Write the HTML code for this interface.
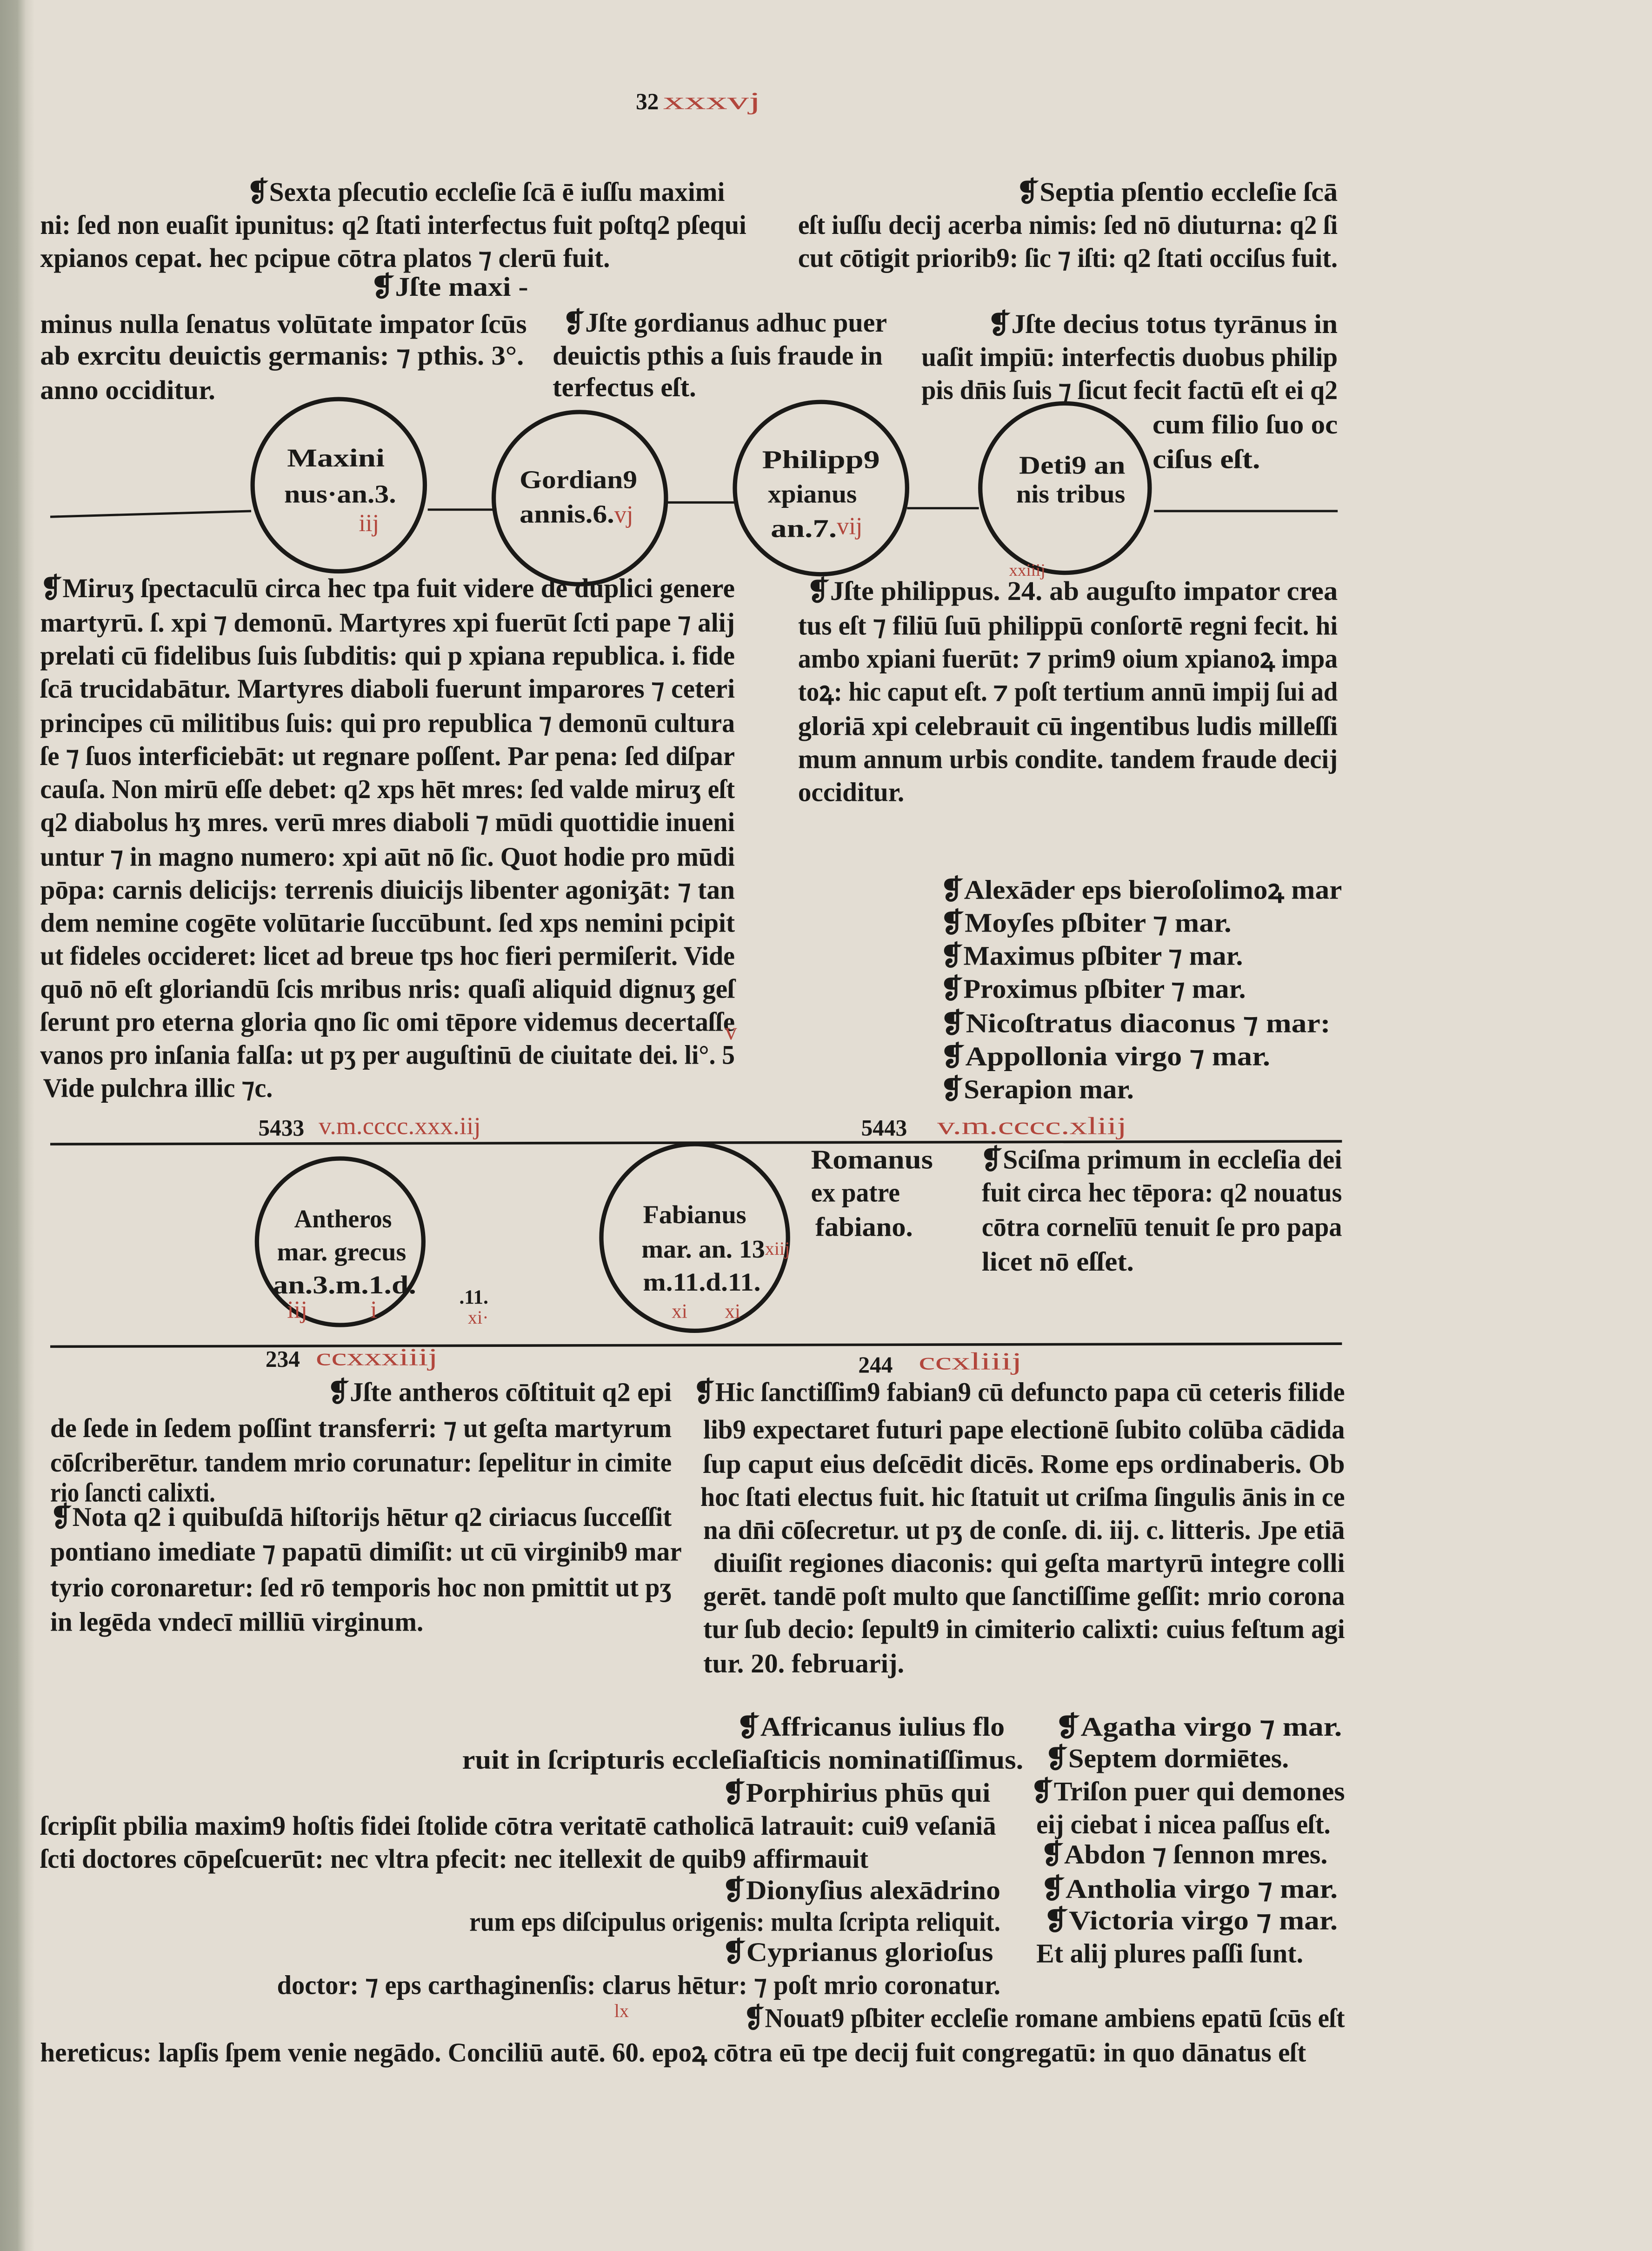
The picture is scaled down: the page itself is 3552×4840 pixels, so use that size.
<!DOCTYPE html>
<html><head><meta charset="utf-8">
<style>
html,body{margin:0;padding:0;background:#e3ddd3;}
svg{display:block}
text{font-family:"Liberation Serif","DejaVu Serif",serif;font-weight:bold;font-size:19px;fill:#1a1917}
.r{fill:#b2463c;font-weight:normal;font-size:17px}
.c{font-size:18px}
</style></head>
<body>
<svg width="3552" height="4840" viewBox="0 0 1151 1568" preserveAspectRatio="none" xmlns="http://www.w3.org/2000/svg">
<defs>
<linearGradient id="lg" x1="0" x2="1" y1="0" y2="0">
<stop offset="0" stop-color="#9c9e8f"/>
<stop offset="0.5" stop-color="#aaab9c"/>
<stop offset="0.75" stop-color="#d3cfc3"/>
<stop offset="1" stop-color="#e3ddd3"/>
</linearGradient>
</defs>
<rect x="0" y="0" width="1151" height="1568" fill="#e3ddd3"/>
<rect x="0" y="0" width="24" height="1568" fill="url(#lg)"/>

<text x="443" y="76" style="font-size:16px">32</text>
<text class="r" x="462" y="76" textLength="68" lengthAdjust="spacingAndGlyphs">xxxvj</text>

<text x="172" y="140" textLength="333" lengthAdjust="spacingAndGlyphs">❡Sexta pſecutio eccleſie ſcā ē iuſſu maximi</text>
<text x="28" y="163" textLength="492" lengthAdjust="spacingAndGlyphs">ni: ſed non euaſit ipunitus: q2 ſtati interfectus fuit poſtq2 pſequi</text>
<text x="28" y="186" textLength="397" lengthAdjust="spacingAndGlyphs">xpianos cepat. hec pcipue cōtra platos ⁊ clerū fuit.</text>
<text x="258" y="206" textLength="110" lengthAdjust="spacingAndGlyphs">❡Jſte maxi -</text>
<text x="28" y="232" textLength="339" lengthAdjust="spacingAndGlyphs">minus nulla ſenatus volūtate impator ſcūs</text>
<text x="28" y="254" textLength="337" lengthAdjust="spacingAndGlyphs">ab exrcitu deuictis germanis: ⁊ pthis. 3°.</text>
<text x="28" y="278" textLength="122" lengthAdjust="spacingAndGlyphs">anno occiditur.</text>
<text x="392" y="231" textLength="226" lengthAdjust="spacingAndGlyphs">❡Jſte gordianus adhuc puer</text>
<text x="385" y="254" textLength="230" lengthAdjust="spacingAndGlyphs">deuictis pthis a ſuis fraude in</text>
<text x="385" y="276" textLength="100" lengthAdjust="spacingAndGlyphs">terfectus eſt.</text>
<text x="708" y="140" textLength="224" lengthAdjust="spacingAndGlyphs">❡Septia pſentio eccleſie ſcā</text>
<text x="556" y="163" textLength="376" lengthAdjust="spacingAndGlyphs">eſt iuſſu decij acerba nimis: ſed nō diuturna: q2 ſi</text>
<text x="556" y="186" textLength="376" lengthAdjust="spacingAndGlyphs">cut cōtigit priorib9: ſic ⁊ iſti: q2 ſtati occiſus fuit.</text>
<text x="688" y="232" textLength="244" lengthAdjust="spacingAndGlyphs">❡Jſte decius totus tyrānus in</text>
<text x="642" y="255" textLength="290" lengthAdjust="spacingAndGlyphs">uaſit impiū: interfectis duobus philip</text>
<text x="642" y="278" textLength="290" lengthAdjust="spacingAndGlyphs">pis dn̄is ſuis ⁊ ſicut fecit factū eſt ei q2</text>
<text x="803" y="302" textLength="129" lengthAdjust="spacingAndGlyphs">cum filio ſuo oc</text>
<text x="803" y="326" textLength="75" lengthAdjust="spacingAndGlyphs">ciſus eſt.</text>

<g stroke="#1a1917" fill="none">
<line x1="35" y1="360" x2="175" y2="356" stroke-width="1.6"/>
<line x1="298" y1="355" x2="346" y2="355" stroke-width="1.6"/>
<line x1="464" y1="350" x2="512" y2="350" stroke-width="1.6"/>
<line x1="632" y1="354" x2="682" y2="354" stroke-width="1.6"/>
<line x1="804" y1="356" x2="932" y2="356" stroke-width="1.6"/>
<circle cx="236" cy="338" r="60" stroke-width="3"/>
<circle cx="404" cy="347" r="60" stroke-width="3"/>
<circle cx="572" cy="340" r="60" stroke-width="3"/>
<circle cx="742" cy="340" r="59" stroke-width="3"/>
</g>
<text class="c" x="200" y="325" textLength="68" lengthAdjust="spacingAndGlyphs">Maxini</text>
<text class="c" x="198" y="350" textLength="78" lengthAdjust="spacingAndGlyphs">nus·an.3.</text>
<text class="r" x="250" y="370">iij</text>
<text class="c" x="362" y="340" textLength="82" lengthAdjust="spacingAndGlyphs">Gordian9</text>
<text class="c" x="362" y="364" textLength="66" lengthAdjust="spacingAndGlyphs">annis.6.</text>
<text class="r" x="428" y="364">vj</text>
<text class="c" x="531" y="326" textLength="82" lengthAdjust="spacingAndGlyphs">Philipp9</text>
<text class="c" x="535" y="350" textLength="62" lengthAdjust="spacingAndGlyphs">xpianus</text>
<text class="c" x="537" y="374" textLength="46" lengthAdjust="spacingAndGlyphs">an.7.</text>
<text class="r" x="583" y="372">vij</text>
<text class="c" x="710" y="330" textLength="74" lengthAdjust="spacingAndGlyphs">Deti9 an</text>
<text class="c" x="708" y="350" textLength="76" lengthAdjust="spacingAndGlyphs">nis tribus</text>

<text x="28" y="416" textLength="484" lengthAdjust="spacingAndGlyphs">❡Miruʒ ſpectaculū circa hec tpa fuit videre de duplici genere</text>
<text x="28" y="440" textLength="484" lengthAdjust="spacingAndGlyphs">martyrū. ſ. xpi ⁊ demonū. Martyres xpi fuerūt ſcti pape ⁊ alij</text>
<text x="28" y="463" textLength="484" lengthAdjust="spacingAndGlyphs">prelati cū fidelibus ſuis ſubditis: qui p xpiana republica. i. fide</text>
<text x="28" y="486" textLength="484" lengthAdjust="spacingAndGlyphs">ſcā trucidabātur. Martyres diaboli fuerunt imparores ⁊ ceteri</text>
<text x="28" y="510" textLength="484" lengthAdjust="spacingAndGlyphs">principes cū militibus ſuis: qui pro republica ⁊ demonū cultura</text>
<text x="28" y="533" textLength="484" lengthAdjust="spacingAndGlyphs">ſe ⁊ ſuos interficiebāt: ut regnare poſſent. Par pena: ſed diſpar</text>
<text x="28" y="556" textLength="484" lengthAdjust="spacingAndGlyphs">cauſa. Non mirū eſſe debet: q2 xps hēt mres: ſed valde miruʒ eſt</text>
<text x="28" y="579" textLength="484" lengthAdjust="spacingAndGlyphs">q2 diabolus hʒ mres. verū mres diaboli ⁊ mūdi quottidie inueni</text>
<text x="28" y="603" textLength="484" lengthAdjust="spacingAndGlyphs">untur ⁊ in magno numero: xpi aūt nō ſic. Quot hodie pro mūdi</text>
<text x="28" y="626" textLength="484" lengthAdjust="spacingAndGlyphs">pōpa: carnis delicijs: terrenis diuicijs libenter agoniʒāt: ⁊ tan</text>
<text x="28" y="649" textLength="484" lengthAdjust="spacingAndGlyphs">dem nemine cogēte volūtarie ſuccūbunt. ſed xps nemini pcipit</text>
<text x="28" y="672" textLength="484" lengthAdjust="spacingAndGlyphs">ut fideles occideret: licet ad breue tps hoc fieri permiſerit. Vide</text>
<text x="28" y="695" textLength="484" lengthAdjust="spacingAndGlyphs">quō nō eſt gloriandū ſcis mribus nris: quaſi aliquid dignuʒ geſ</text>
<text x="28" y="718" textLength="484" lengthAdjust="spacingAndGlyphs">ſerunt pro eterna gloria qno ſic omi tēpore videmus decertaſſe</text>
<text x="28" y="741" textLength="484" lengthAdjust="spacingAndGlyphs">vanos pro inſania falſa: ut pʒ per auguſtinū de ciuitate dei. li°. 5</text>
<text class="r" x="505" y="724">v</text>
<text x="30" y="764" textLength="160" lengthAdjust="spacingAndGlyphs">Vide pulchra illic ⁊c.</text>

<text class="r" x="703" y="401" style="font-size:12px">xxiiij</text>
<text x="562" y="418" textLength="370" lengthAdjust="spacingAndGlyphs">❡Jſte philippus. 24. ab auguſto impator crea</text>
<text x="556" y="442" textLength="376" lengthAdjust="spacingAndGlyphs">tus eſt ⁊ filiū ſuū philippū conſortē regni fecit. hi</text>
<text x="556" y="465" textLength="376" lengthAdjust="spacingAndGlyphs">ambo xpiani fuerūt: ⁊ prim9 oium xpianoꝝ impa</text>
<text x="556" y="488" textLength="376" lengthAdjust="spacingAndGlyphs">toꝝ: hic caput eſt. ⁊ poſt tertium annū impij ſui ad</text>
<text x="556" y="512" textLength="376" lengthAdjust="spacingAndGlyphs">gloriā xpi celebrauit cū ingentibus ludis milleſſi</text>
<text x="556" y="535" textLength="376" lengthAdjust="spacingAndGlyphs">mum annum urbis condite. tandem fraude decij</text>
<text x="556" y="558" textLength="74" lengthAdjust="spacingAndGlyphs">occiditur.</text>

<text x="655" y="626" textLength="280" lengthAdjust="spacingAndGlyphs">❡Alexāder eps bieroſolimoꝝ mar</text>
<text x="655" y="649" textLength="203" lengthAdjust="spacingAndGlyphs">❡Moyſes pſbiter ⁊ mar.</text>
<text x="655" y="672" textLength="211" lengthAdjust="spacingAndGlyphs">❡Maximus pſbiter ⁊ mar.</text>
<text x="655" y="695" textLength="213" lengthAdjust="spacingAndGlyphs">❡Proximus pſbiter ⁊ mar.</text>
<text x="655" y="719" textLength="272" lengthAdjust="spacingAndGlyphs">❡Nicoſtratus diaconus ⁊ mar:</text>
<text x="655" y="742" textLength="230" lengthAdjust="spacingAndGlyphs">❡Appollonia virgo ⁊ mar.</text>
<text x="655" y="765" textLength="135" lengthAdjust="spacingAndGlyphs">❡Serapion mar.</text>

<text x="180" y="791" style="font-size:16px">5433</text>
<text class="r" x="222" y="790" textLength="113" lengthAdjust="spacingAndGlyphs">v.m.cccc.xxx.iij</text>
<text x="600" y="791" style="font-size:16px">5443</text>
<text class="r" x="653" y="790" textLength="132" lengthAdjust="spacingAndGlyphs">v.m.cccc.xliij</text>
<line x1="35" y1="797" x2="935" y2="795" stroke="#1a1917" stroke-width="1.8"/>

<g stroke="#1a1917" fill="none">
<circle cx="237" cy="865" r="58" stroke-width="3"/>
<circle cx="484" cy="862" r="65" stroke-width="3"/>
</g>
<text class="c" x="205" y="855" textLength="68" lengthAdjust="spacingAndGlyphs">Antheros</text>
<text class="c" x="193" y="878" textLength="90" lengthAdjust="spacingAndGlyphs">mar. grecus</text>
<text class="c" x="190" y="901" textLength="100" lengthAdjust="spacingAndGlyphs">an.3.m.1.d.</text>
<text class="r" x="200" y="918">iij</text>
<text class="r" x="258" y="918">i</text>
<text class="c" x="320" y="908" style="font-size:14px">.11.</text>
<text class="r" x="326" y="922" style="font-size:13px">xi·</text>
<text class="c" x="448" y="852" textLength="72" lengthAdjust="spacingAndGlyphs">Fabianus</text>
<text class="c" x="447" y="876" textLength="86" lengthAdjust="spacingAndGlyphs">mar. an. 13</text>
<text class="r" x="533" y="874" style="font-size:13px">xiij</text>
<text class="c" x="448" y="899" textLength="82" lengthAdjust="spacingAndGlyphs">m.11.d.11.</text>
<text class="r" x="468" y="918" style="font-size:14px">xi</text>
<text class="r" x="505" y="918" style="font-size:14px">xi</text>

<text x="565" y="814" textLength="85" lengthAdjust="spacingAndGlyphs">Romanus</text>
<text x="565" y="837" textLength="62" lengthAdjust="spacingAndGlyphs">ex patre</text>
<text x="568" y="861" textLength="68" lengthAdjust="spacingAndGlyphs">fabiano.</text>
<text x="683" y="814" textLength="252" lengthAdjust="spacingAndGlyphs">❡Sciſma primum in eccleſia dei</text>
<text x="684" y="837" textLength="251" lengthAdjust="spacingAndGlyphs">fuit circa hec tēpora: q2 nouatus</text>
<text x="684" y="861" textLength="251" lengthAdjust="spacingAndGlyphs">cōtra cornelīū tenuit ſe pro papa</text>
<text x="684" y="885" textLength="106" lengthAdjust="spacingAndGlyphs">licet nō eſſet.</text>

<line x1="35" y1="938" x2="935" y2="936" stroke="#1a1917" stroke-width="1.8"/>
<text x="185" y="952" style="font-size:16px">234</text>
<text class="r" x="220" y="951" textLength="85" lengthAdjust="spacingAndGlyphs">ccxxxiiij</text>
<text x="598" y="956" style="font-size:16px">244</text>
<text class="r" x="640" y="954" textLength="72" lengthAdjust="spacingAndGlyphs">ccxliiij</text>

<text x="228" y="976" textLength="240" lengthAdjust="spacingAndGlyphs">❡Jſte antheros cōſtituit q2 epi</text>
<text x="35" y="1001" textLength="433" lengthAdjust="spacingAndGlyphs">de ſede in ſedem poſſint transferri: ⁊ ut geſta martyrum</text>
<text x="35" y="1025" textLength="433" lengthAdjust="spacingAndGlyphs">cōſcriberētur. tandem mrio corunatur: ſepelitur in cimite</text>
<text x="35" y="1046" textLength="115" lengthAdjust="spacingAndGlyphs">rio ſancti calixti.</text>
<text x="35" y="1063" textLength="433" lengthAdjust="spacingAndGlyphs">❡Nota q2 i quibuſdā hiſtorijs hētur q2 ciriacus ſucceſſit</text>
<text x="35" y="1087" textLength="440" lengthAdjust="spacingAndGlyphs">pontiano imediate ⁊ papatū dimiſit: ut cū virginib9 mar</text>
<text x="35" y="1112" textLength="433" lengthAdjust="spacingAndGlyphs">tyrio coronaretur: ſed rō temporis hoc non pmittit ut pʒ</text>
<text x="35" y="1136" textLength="260" lengthAdjust="spacingAndGlyphs">in legēda vndecī milliū virginum.</text>

<text x="483" y="976" textLength="454" lengthAdjust="spacingAndGlyphs">❡Hic ſanctiſſim9 fabian9 cū defuncto papa cū ceteris filide</text>
<text x="490" y="1002" textLength="447" lengthAdjust="spacingAndGlyphs">lib9 expectaret futuri pape electionē ſubito colūba cādida</text>
<text x="490" y="1026" textLength="447" lengthAdjust="spacingAndGlyphs">ſup caput eius deſcēdit dicēs. Rome eps ordinaberis. Ob</text>
<text x="488" y="1049" textLength="449" lengthAdjust="spacingAndGlyphs">hoc ſtati electus fuit. hic ſtatuit ut criſma ſingulis ānis in ce</text>
<text x="490" y="1072" textLength="447" lengthAdjust="spacingAndGlyphs">na dn̄i cōſecretur. ut pʒ de conſe. di. iij. c. litteris. Jpe etiā</text>
<text x="497" y="1095" textLength="440" lengthAdjust="spacingAndGlyphs">diuiſit regiones diaconis: qui geſta martyrū integre colli</text>
<text x="490" y="1118" textLength="447" lengthAdjust="spacingAndGlyphs">gerēt. tandē poſt multo que ſanctiſſime geſſit: mrio corona</text>
<text x="490" y="1141" textLength="447" lengthAdjust="spacingAndGlyphs">tur ſub decio: ſepult9 in cimiterio calixti: cuius feſtum agi</text>
<text x="490" y="1165" textLength="140" lengthAdjust="spacingAndGlyphs">tur. 20. februarij.</text>

<text x="513" y="1209" textLength="187" lengthAdjust="spacingAndGlyphs">❡Affricanus iulius flo</text>
<text x="322" y="1232" textLength="391" lengthAdjust="spacingAndGlyphs">ruit in ſcripturis eccleſiaſticis nominatiſſimus.</text>
<text x="503" y="1255" textLength="187" lengthAdjust="spacingAndGlyphs">❡Porphirius phūs qui</text>
<text x="28" y="1278" textLength="666" lengthAdjust="spacingAndGlyphs">ſcripſit pbilia maxim9 hoſtis fidei ſtolide cōtra veritatē catholicā latrauit: cui9 veſaniā</text>
<text x="28" y="1301" textLength="577" lengthAdjust="spacingAndGlyphs">ſcti doctores cōpeſcuerūt: nec vltra pfecit: nec itellexit de quib9 affirmauit</text>
<text x="503" y="1323" textLength="194" lengthAdjust="spacingAndGlyphs">❡Dionyſius alexādrino</text>
<text x="327" y="1345" textLength="370" lengthAdjust="spacingAndGlyphs">rum eps diſcipulus origenis: multa ſcripta reliquit.</text>
<text x="503" y="1366" textLength="189" lengthAdjust="spacingAndGlyphs">❡Cyprianus glorioſus</text>
<text x="193" y="1389" textLength="504" lengthAdjust="spacingAndGlyphs">doctor: ⁊ eps carthaginenſis: clarus hētur: ⁊ poſt mrio coronatur.</text>
<text class="r" x="428" y="1405" style="font-size:13px">lx</text>
<text x="518" y="1412" textLength="419" lengthAdjust="spacingAndGlyphs">❡Nouat9 pſbiter eccleſie romane ambiens epatū ſcūs eſt</text>
<text x="28" y="1436" textLength="882" lengthAdjust="spacingAndGlyphs">hereticus: lapſis ſpem venie negādo. Conciliū autē. 60. epoꝝ cōtra eū tpe decij fuit congregatū: in quo dānatus eſt</text>

<text x="735" y="1209" textLength="200" lengthAdjust="spacingAndGlyphs">❡Agatha virgo ⁊ mar.</text>
<text x="728" y="1231" textLength="170" lengthAdjust="spacingAndGlyphs">❡Septem dormiētes.</text>
<text x="718" y="1254" textLength="219" lengthAdjust="spacingAndGlyphs">❡Triſon puer qui demones</text>
<text x="722" y="1277" textLength="205" lengthAdjust="spacingAndGlyphs">eij ciebat i nicea paſſus eſt.</text>
<text x="725" y="1298" textLength="200" lengthAdjust="spacingAndGlyphs">❡Abdon ⁊ ſennon mres.</text>
<text x="725" y="1322" textLength="207" lengthAdjust="spacingAndGlyphs">❡Antholia virgo ⁊ mar.</text>
<text x="727" y="1344" textLength="205" lengthAdjust="spacingAndGlyphs">❡Victoria virgo ⁊ mar.</text>
<text x="722" y="1367" textLength="186" lengthAdjust="spacingAndGlyphs">Et alij plures paſſi ſunt.</text>
</svg>
</body></html>
